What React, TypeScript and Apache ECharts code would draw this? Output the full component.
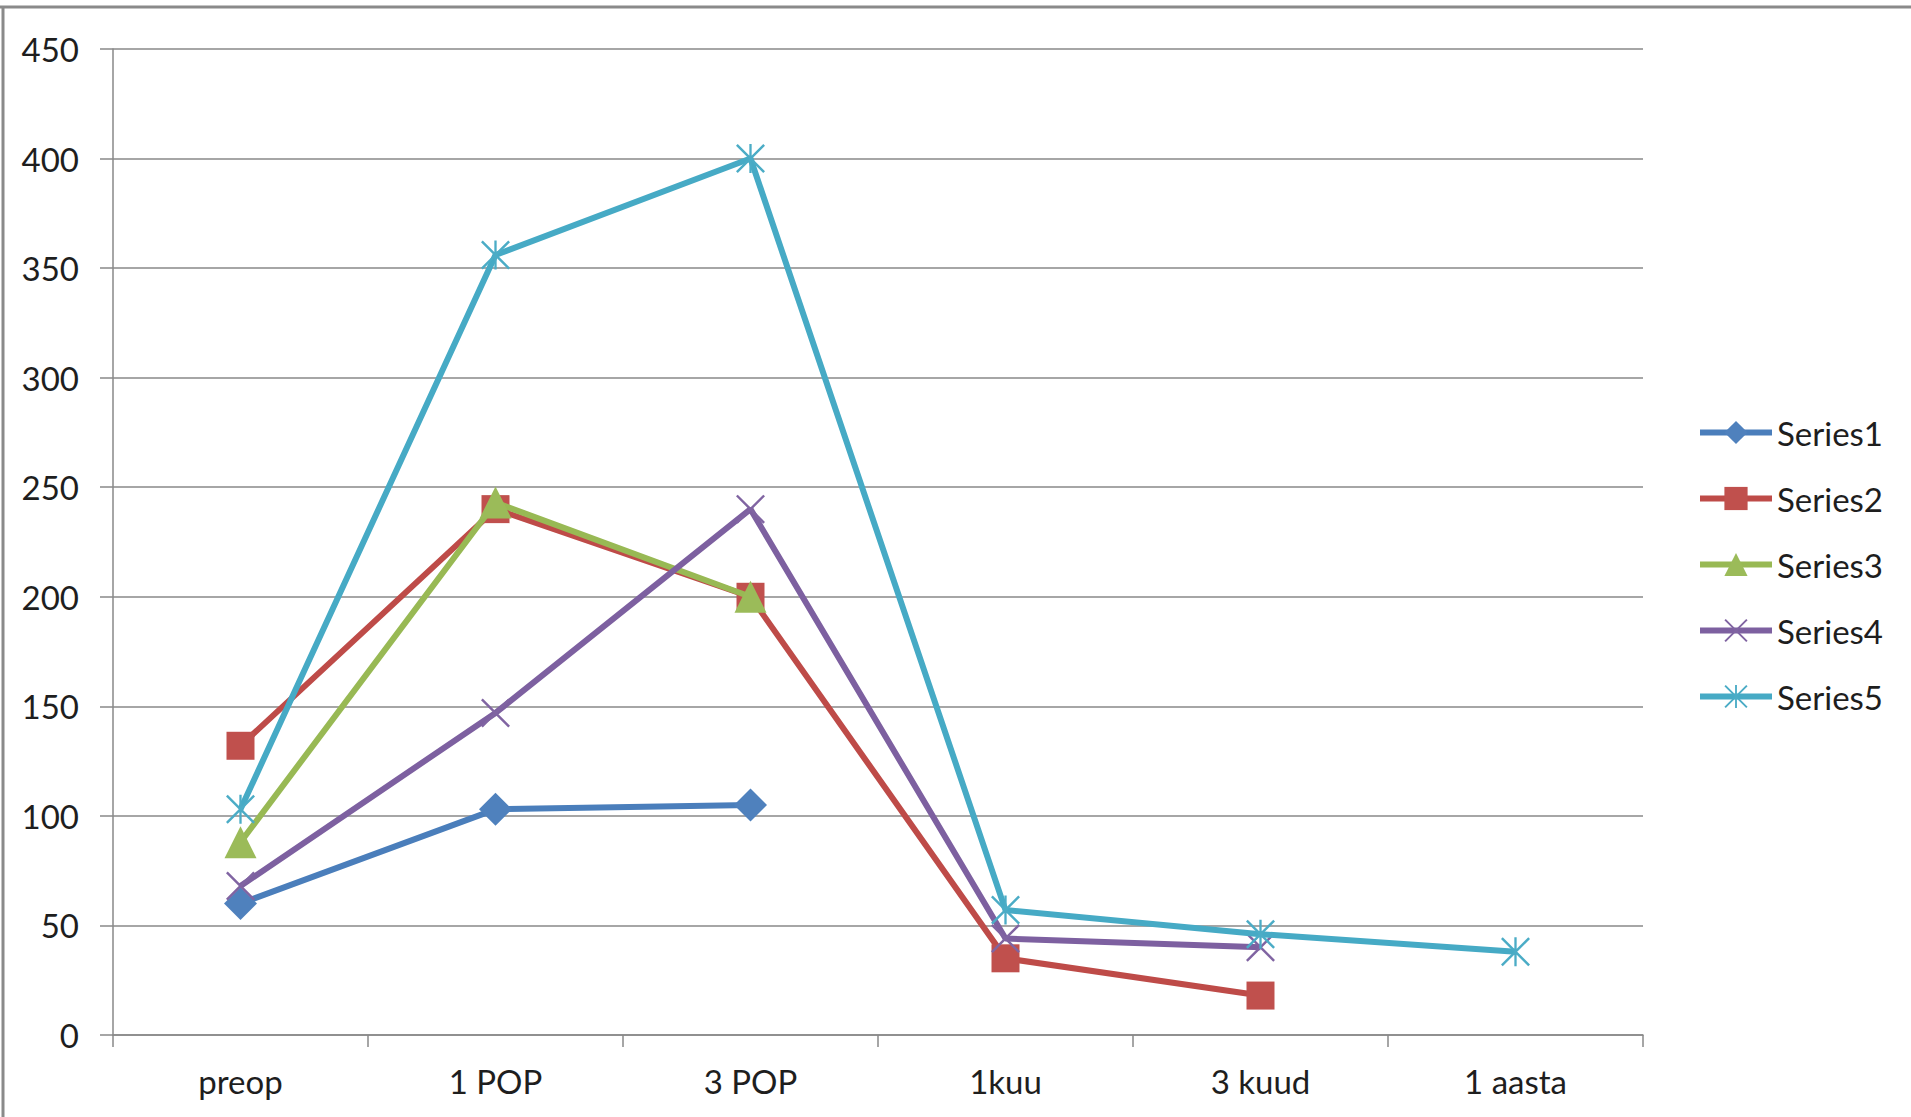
import React, { useEffect, useRef } from "react";
import * as echarts from "echarts";

const categories = ["preop", "1 POP", "3 POP", "1kuu", "3 kuud", "1 aasta"];
const seriesNames = ["Series1", "Series2", "Series3", "Series4", "Series5"];
const series1 = [60, 103, 105, null, null, null];
const series2 = [132, 240, 200, 35, 18, null];
const series3 = [88, 243, 200, null, null, null];
const series4 = [68, 147, 240, 44, 40, null];
const series5 = [103, 356, 400, 57, 46, 38];
const yMin = 0;
const yMax = 450;
const yStep = 50;

const lineColors = ["#4A7EBB", "#BE4B48", "#98B954", "#7D60A0", "#46AAC5"];
const markerColors = ["#4F81BD", "#C0504D", "#9BBB59", "#8064A2", "#4BACC6"];

const X_PATH =
  "path://M0,6 L6,0 L100,94 L94,100 Z M94,0 L100,6 L6,100 L0,94 Z";
const STAR_PATH =
  "path://M0,6 L6,0 L100,94 L94,100 Z M94,0 L100,6 L6,100 L0,94 Z M46,0 L54,0 L54,100 L46,100 Z";

const symbols = ["diamond", "rect", "triangle", X_PATH, STAR_PATH];
const symbolSizes = [33, 28, 32, 29, 29];

const FONT = "Lato, 'Open Sans', sans-serif";
const FS = 33;

export default function App() {
  const ref = useRef<HTMLDivElement>(null);
  useEffect(() => {
    if (!ref.current) return;
    const chart = echarts.init(ref.current, null, { renderer: "svg" });
    const data = [series1, series2, series3, series4, series5];
    const option: any = {
      animation: false,
      backgroundColor: "#ffffff",
      textStyle: { fontFamily: FONT },
      grid: { left: 113, right: 268, top: 49, bottom: 82, containLabel: false },
      legend: {
        orient: "vertical",
        left: 1692,
        top: 411,
        itemWidth: 72,
        itemHeight: 29,
        itemGap: 33,
        data: seriesNames,
        lineStyle: { width: 6 },
        textStyle: { fontFamily: FONT, fontSize: FS, color: "#1e1e1e", padding: [0, 0, 0, 0] },
      },
      xAxis: {
        type: "category",
        data: categories,
        boundaryGap: true,
        axisLine: { show: true, lineStyle: { color: "#898989", width: 1.5 } },
        axisTick: { show: true, length: 12, lineStyle: { color: "#898989", width: 1.5 } },
        axisLabel: { fontFamily: FONT, fontSize: FS, color: "#1e1e1e", margin: 29 },
        splitLine: { show: false },
      },
      yAxis: {
        type: "value",
        min: yMin,
        max: yMax,
        interval: yStep,
        axisLine: { show: true, lineStyle: { color: "#898989", width: 1.5 } },
        axisTick: { show: true, length: 13, lineStyle: { color: "#898989", width: 1.5 } },
        axisLabel: { fontFamily: FONT, fontSize: FS, color: "#1e1e1e", margin: 34 },
        splitLine: { show: true, lineStyle: { color: "#898989", width: 1.5 } },
      },
      graphic: [
        {
          type: "line",
          shape: { x1: 0, y1: 7, x2: 1911, y2: 7 },
          style: { stroke: "#8a8a8a", lineWidth: 3 },
          silent: true,
        },
        {
          type: "line",
          shape: { x1: 3, y1: 6, x2: 3, y2: 1117 },
          style: { stroke: "#8a8a8a", lineWidth: 3 },
          silent: true,
        },
      ],
      series: seriesNames.map((name, i) => ({
        name,
        type: "line",
        data: data[i],
        symbol: symbols[i],
        symbolSize: symbolSizes[i],
        showAllSymbol: true,
        connectNulls: false,
        lineStyle: { color: lineColors[i], width: 6 },
        itemStyle: { color: markerColors[i], opacity: 1 },
        emphasis: { disabled: true },
        z: 2 + i,
      })),
    };
    chart.setOption(option);
    return () => chart.dispose();
  }, []);
  return (
    <div
      ref={ref}
      style={{ position: "fixed", left: 0, top: 0, width: 1911, height: 1117 }}
    />
  );
}
